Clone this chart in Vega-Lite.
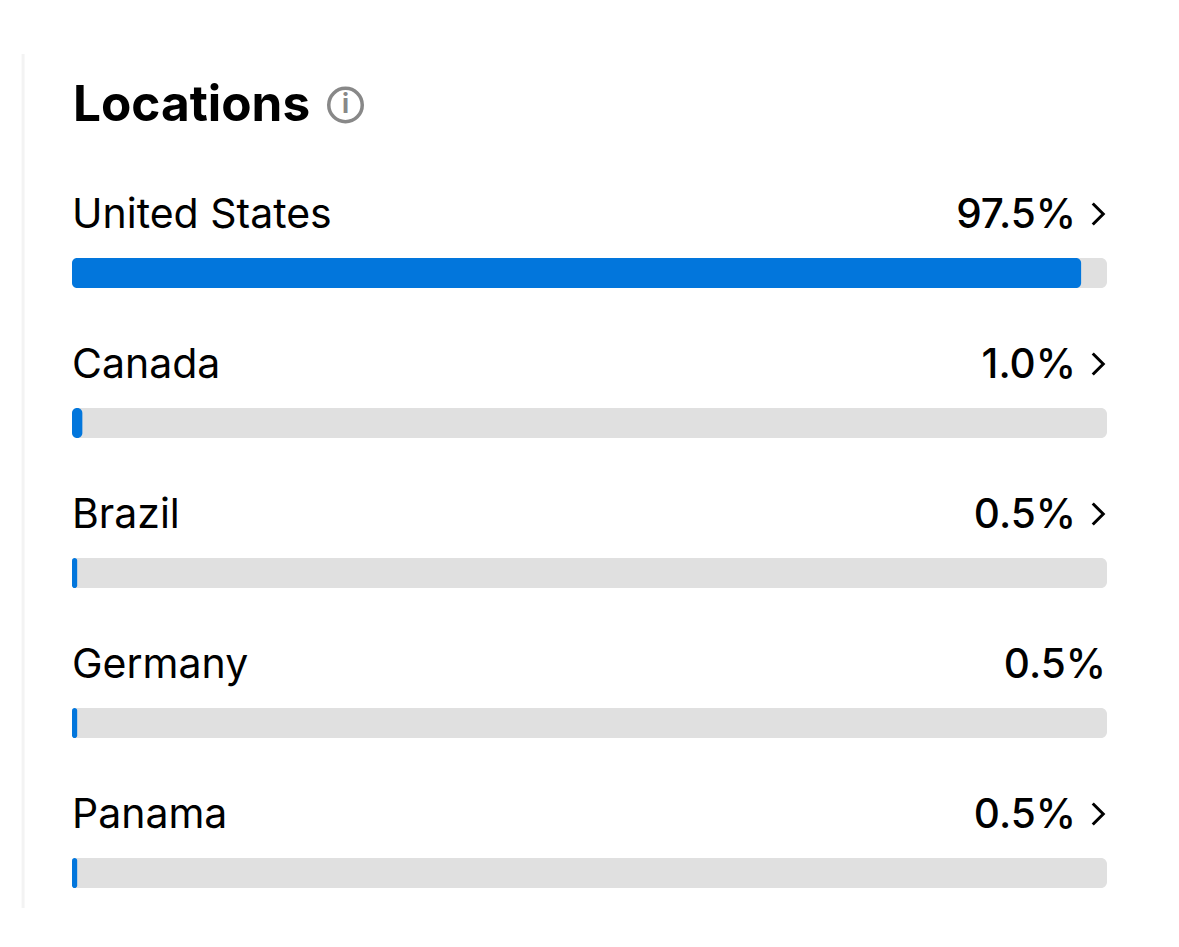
{
"$schema":"https://vega.github.io/schema/vega-lite/v6.json",
"width":1179,"height":947,"padding":0,
"autosize":{"type":"fit","contains":"padding"},
"background":"#ffffff",
"config":{"view":{"stroke":null}},
"data":{"values":[
{"country":"Locations","pct":0,"label":"","role":"title","linked":false},
{"country":"United States","pct":97.5,"label":"97.5%","role":"row","linked":true},
{"country":"Canada","pct":1.0,"label":"1.0%","role":"row","linked":true},
{"country":"Brazil","pct":0.5,"label":"0.5%","role":"row","linked":true},
{"country":"Germany","pct":0.5,"label":"0.5%","role":"row","linked":false},
{"country":"Panama","pct":0.5,"label":"0.5%","role":"row","linked":true}
]},
"encoding":{
"y":{"field":"country","type":"nominal","axis":null,
"scale":{"domain":["Locations","United States","Canada","Brazil","Germany","Panama"],"range":[48,948],"paddingInner":0,"paddingOuter":0}},
"x":{"field":"pct","type":"quantitative","axis":null,
"scale":{"domain":[-6.957,106.957],"nice":false,"zero":false}}
},
"layer":[
{"transform":[{"filter":"datum.role=='title'"}],
 "mark":{"type":"rule","color":"#f3f3f3","strokeWidth":3},
 "encoding":{"x":{"datum":-4.73},"y":{"value":54},"y2":{"value":908}}},
{"transform":[{"filter":"datum.role=='row'"}],
 "mark":{"type":"bar","color":"#e0e0e0","cornerRadius":6,"height":30},
 "encoding":{"x":{"datum":0},"x2":{"datum":100}}},
{"transform":[{"filter":"datum.role=='row'"}],
 "mark":{"type":"bar","color":"#0276dc","cornerRadius":5,"height":30},
 "encoding":{"x":{"datum":0},"x2":{"field":"pct"}}},
{"transform":[{"filter":"datum.role=='row'"}],
 "mark":{"type":"text","font":"Inter","fontSize":41,"fontWeight":400,"color":"#000000","align":"left","baseline":"middle","dy":-57},
 "encoding":{"x":{"datum":0},"text":{"field":"country"}}},
{"transform":[{"filter":"datum.role=='row' && datum.linked"}],
 "mark":{"type":"text","font":"Inter","fontSize":40.5,"fontWeight":500,"color":"#000000","align":"right","baseline":"middle","dy":-57,"dx":-31},
 "encoding":{"x":{"datum":100},"text":{"field":"label"}}},
{"transform":[{"filter":"datum.role=='row' && !datum.linked"}],
 "mark":{"type":"text","font":"Inter","fontSize":40.5,"fontWeight":500,"color":"#000000","align":"right","baseline":"middle","dy":-57,"dx":-1},
 "encoding":{"x":{"datum":100},"text":{"field":"label"}}},
{"transform":[{"filter":"datum.linked"}],
 "mark":{"type":"point","shape":"M -0.5 -1 L 0.5 0 L -0.5 1","filled":false,"stroke":"#000000","strokeWidth":3,"size":441,"opacity":1,"xOffset":-9,"yOffset":-59},
 "encoding":{"x":{"datum":100}}},
{"transform":[{"filter":"datum.role=='title'"}],
 "mark":{"type":"text","font":"Inter","fontSize":49.5,"fontWeight":700,"color":"#000000","align":"left","baseline":"middle","dy":-17,"dx":1},
 "encoding":{"x":{"datum":0},"text":{"field":"country"}}},
{"transform":[{"filter":"datum.role=='title'"}],
 "mark":{"type":"point","shape":"circle","filled":false,"stroke":"#888888","strokeWidth":3.5,"size":1122,"opacity":1,"xOffset":273.5,"yOffset":-18},
 "encoding":{"x":{"datum":0}}},
{"transform":[{"filter":"datum.role=='title'"}],
 "mark":{"type":"text","text":"i","font":"Inter","fontSize":26,"fontWeight":700,"color":"#888888","align":"center","baseline":"middle","dx":273.5,"dy":-18},
 "encoding":{"x":{"datum":0}}}
]
}
